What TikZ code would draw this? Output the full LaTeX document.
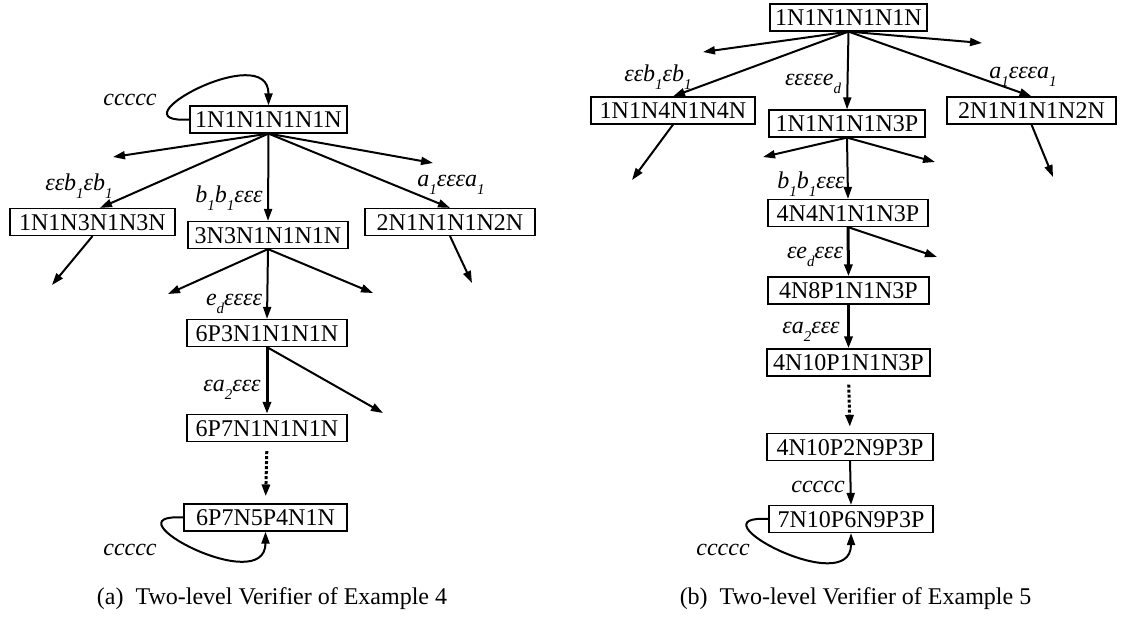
\documentclass[tikz,border=0pt]{standalone}
\usepackage{fontspec}
\setmainfont{Liberation Serif}
\usetikzlibrary{positioning,calc,arrows.meta}

\newcommand{\lowsub}[1]{\raisebox{-0.75ex}{\fontsize{7.5}{8}\selectfont #1}}

\begin{document}
\begin{tikzpicture}[x=0.5pt,y=-0.5pt]
        \tikzstyle{box}=[draw, rectangle, line width=0.6pt, inner sep=0pt, minimum height=13.5pt, text height=8pt, text depth=0pt, font=\fontsize{12}{14}\selectfont]
        \tikzstyle{edge}=[-{Triangle[length=6pt,width=4pt]}, line width=1pt]
        \tikzstyle{bold}=[line width=1.5pt]
        \tikzstyle{dots}=[line width=1.5pt, dash pattern=on 1.5pt off 1pt]
        \tikzstyle{lbl}=[inner sep=0pt, font=\fontsize{12}{14}\selectfont\itshape]

        \useasboundingbox (0,0) rectangle (1122,617);

        % verifier of example 4
        \node[box, minimum width=78.5pt] (l1) at (268.5,119.5) {1N1N1N1N1N};
        \node[box, minimum width=82.5pt] (l2) at (92.5,222) {1N1N3N1N3N};
        \node[box, minimum width=80pt]   (l3) at (268,235) {3N3N1N1N1N};
        \node[box, minimum width=85pt]   (l4) at (450,222) {2N1N1N1N2N};
        \node[box, minimum width=80pt]   (l5) at (267,333) {6P3N1N1N1N};
        \node[box, minimum width=80pt]   (l6) at (267,428) {6P7N1N1N1N};
        \node[box, minimum width=81.5pt] (l7) at (265.5,517.5) {6P7N5P4N1N};

        \coordinate (l1a) at (113,157);
        \coordinate (l1b) at (433,163);
        \coordinate (l2a) at (52,285);
        \coordinate (l4a) at (472,283);
        \coordinate (l3a) at (168,294);
        \coordinate (l3b) at (373,293);
        \coordinate (l5a) at (383,413);

        \draw[edge] (l1.west) .. controls +(-80,5) and +(0,-67) .. (l1.north);
        \draw[edge] (l1.south) -- (l1a);
        \draw[edge] (l1.south) -- ([xshift=3.75pt]l2.north);
        \draw[edge] (l1.south) -- (l3.north);
        \draw[edge] (l1.south) -- (l4.north);
        \draw[edge] (l1.south) -- (l1b);
        \draw[edge] (l2.south) -- (l2a);
        \draw[edge] (l4.south) -- (l4a);
        \draw[edge] (l3.south) -- (l3a);
        \draw[edge] (l3.south) -- (l5.north);
        \draw[edge] (l3.south) -- (l3b);
        \draw[edge, bold] (l5.south) -- (l6.north);
        \draw[edge] (l5.south) -- (l5a);
        \draw[edge, dots, shorten <=4.5pt, shorten >=3.5pt] (l6.south) -- (l7.north);
        \draw[edge] (l7.west) .. controls +(-80,-5) and +(0,67) .. (l7.south);

        \node[lbl] (t1) at (130,100) {ccccc};
        \node[lbl] (t2) at (79,186) {εεb\lowsub{1}εb\lowsub{1}};
        \node[lbl] (t3) at (229,198) {b\lowsub{1}b\lowsub{1}εεε};
        \node[lbl] (t4) at (451,185) {a\lowsub{1}εεεa\lowsub{1}};
        \node[lbl] (t5) at (234,304) {e\lowsub{d}εεεε};
        \node[lbl] (t6) at (232,390) {εa\lowsub{2}εεε};
        \node[lbl] (t7) at (130,550) {ccccc};

        % verifier of example 5
        \node[box, minimum width=78.5pt] (r1) at (848.5,17.5) {1N1N1N1N1N};
        \node[box, minimum width=82pt]   (r2) at (673,110.5) {1N1N4N1N4N};
        \node[box, minimum width=78pt]   (r3) at (847,123.5) {1N1N1N1N3P};
        \node[box, minimum width=84.5pt] (r4) at (1031.5,110.5) {2N1N1N1N2N};
        \node[box, minimum width=80pt]   (r5) at (848,213) {4N4N1N1N3P};
        \node[box, minimum width=80.5pt] (r6) at (848.5,290.5) {4N8P1N1N3P};
        \node[box, minimum width=81.5pt] (r7) at (848.5,362.5) {4N10P1N1N3P};
        \node[box, minimum width=83pt]   (r8) at (850,447) {4N10P2N9P3P};
        \node[box, minimum width=82pt]   (r9) at (851,519) {7N10P6N9P3P};

        \coordinate (r1a) at (703,52);
        \coordinate (r1b) at (982,43);
        \coordinate (r2a) at (632,180);
        \coordinate (r4a) at (1053,177);
        \coordinate (r3a) at (763,157);
        \coordinate (r3b) at (935,162);
        \coordinate (r5a) at (937,257);

        \draw[edge] (r1.south) -- (r1a);
        \draw[edge] (r1.south) -- (r2.north);
        \draw[edge] (r1.south) -- (r3.north);
        \draw[edge] (r1.south) -- (r4.north);
        \draw[edge] (r1.south) -- (r1b);
        \draw[edge] (r2.south) -- (r2a);
        \draw[edge] (r4.south) -- (r4a);
        \draw[edge] (r3.south) -- (r3a);
        \draw[edge] (r3.south) -- (r5.north);
        \draw[edge] (r3.south) -- (r3b);
        \draw[edge, bold] (r5.south) -- (r6.north);
        \draw[edge] (r5.south) -- (r5a);
        \draw[edge, bold] (r6.south) -- (r7.north);
        \draw[edge, dots, shorten <=4pt, shorten >=3pt] (r7.south) -- (r8.north);
        \draw[edge] (r8.south) -- (r9.north);
        \draw[edge] (r9.west) .. controls +(-80,-5) and +(0,67) .. (r9.south);

        \node[lbl] (u1) at (658,77) {εεb\lowsub{1}εb\lowsub{1}};
        \node[lbl] (u2) at (813,84) {εεεεe\lowsub{d}};
        \node[lbl] (u3) at (1023,77) {a\lowsub{1}εεεa\lowsub{1}};
        \node[lbl] (u4) at (811,184) {b\lowsub{1}b\lowsub{1}εεε};
        \node[lbl] (u5) at (815,257) {εe\lowsub{d}εεε};
        \node[lbl] (u6) at (811,332) {εa\lowsub{2}εεε};
        \node[lbl] (u7) at (818,487) {ccccc};
        \node[lbl] (u8) at (723,550) {ccccc};

        \node[font=\fontsize{12}{14}\selectfont] (capa) at (272,599) {(a)\hspace{0.5em}Two-level Verifier of Example 4};
        \node[font=\fontsize{12}{14}\selectfont] (capb) at (855.5,599) {(b)\hspace{0.5em}Two-level Verifier of Example 5};
    \end{tikzpicture}
\end{document}
